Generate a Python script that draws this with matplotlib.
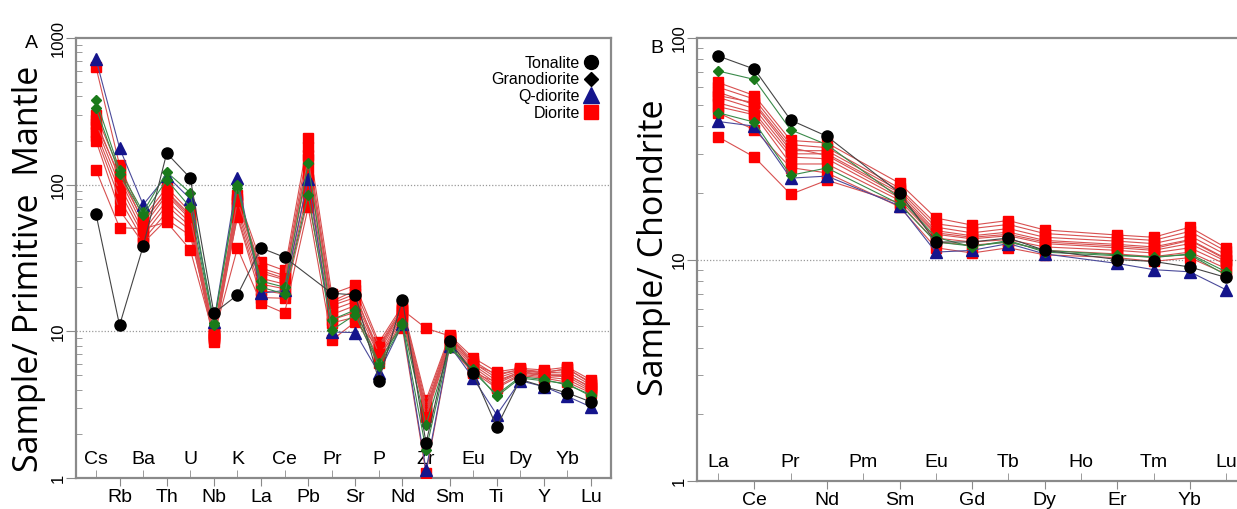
import matplotlib
matplotlib.use('Agg')
import matplotlib.pyplot as plt
from matplotlib.lines import Line2D
from matplotlib.ticker import LogLocator, NullFormatter, FixedLocator
import matplotlib.transforms as mtransforms
import numpy as np

nan = np.nan

# ---- panel A: primitive mantle normalised spider diagram ----
pm_elements = ['Cs', 'Rb', 'Ba', 'Th', 'U', 'Nb', 'K', 'La', 'Ce', 'Pb', 'Pr',
               'Sr', 'P', 'Nd', 'Zr', 'Sm', 'Eu', 'Ti', 'Dy', 'Y', 'Yb', 'Lu']

ton_pm = [
    [63, 11, 38, 164, 111, 13.3, 17.7, 37, 32, nan, 18.2, 17.7, 4.6, 16.4, 1.73, 8.6, 5.2, 2.23, 4.7, 4.2, 3.8, 3.3],
]
gd_pm = [
    [377, 126, 65, 122, 88, 11.4, 95, 22, 20, 140, 12, 14, 6.1, 11.4, 2.3, 7.7, 5.5, 3.6, 4.8, 4.6, 4.4, 3.6],
    [334, 118, 62, 108, 70, 11.0, 100, 20, 18, 85, 10.2, 13, 5.8, 11.0, 1.55, 8.0, 5.3, 3.7, 4.9, 4.7, 4.3, 3.7],
]
qd_pm = [
    [718, 178, 73, 115, 80, 11.6, 111, 18.2, 19, 110, 9.9, 9.8, 5.2, 11.2, 1.13, 8.0, 4.8, 2.7, 4.6, 4.2, 3.6, 3.05],
]
dio_pm = [
    [633, 136, 59, 96, 65, 9.9, 85, 29.7, 26, 208, 18, 20.6, 8.4, 15, 3.4, 9.4, 6.6, 5.3, 5.6, 5.45, 5.7, 4.66],
    [298, 125, 55, 90, 62, 9.5, 80, 27, 24, 180, 16, 19, 8.0, 14.5, 3.2, 9.2, 6.3, 5.0, 5.5, 5.3, 5.5, 4.5],
    [275, 110, 52, 85, 58, 9.2, 75, 25, 22.5, 160, 15, 17, 7.5, 14, 3.0, 9.0, 6.1, 4.8, 5.4, 5.2, 5.3, 4.3],
    [250, 100, 48, 78, 55, 9.0, 70, 23, 21, 130, 14, 16, 7.2, 13.5, 2.9, 8.8, 5.9, 4.6, 5.3, 5.1, 5.1, 4.1],
    [230, 90, 45, 72, 52, 8.8, 66, 21, 19.5, 110, 13, 15, 6.8, 13, 2.8, 8.6, 5.7, 4.4, 5.2, 5.0, 4.9, 4.0],
    [215, 80, 42, 65, 49, 8.5, 62, 19, 18, 95, 12, 13.5, 6.5, 12.5, 2.7, 8.3, 5.5, 4.2, 5.1, 4.9, 4.7, 3.9],
    [200, 67, 40, 58, 45, 9.7, 60, 17, 16.8, 80, 11.4, 12.5, 6.1, 12, 2.6, 8.0, 5.3, 4.1, 5.0, 4.8, 4.5, 3.8],
    [126, 51, 50, 55.6, 36, 9.3, 37, 15.6, 13.3, 70, 8.7, 11.6, 7.8, 14, 10.5, 9.3, 6.0, 5.1, 5.5, 5.2, 5.6, 4.4],
    [260, 115, 57, 88, 60, 9.6, 78, 26, 23, 150, 15.5, 18, 7.0, 10.5, 1.08, 7.8, 5.2, 4.5, 5.3, 5.0, 5.0, 4.2],
]

# ---- panel B: chondrite normalised REE ----
ree_elements = ['La', 'Ce', 'Pr', 'Nd', 'Pm', 'Sm', 'Eu', 'Gd', 'Tb', 'Dy',
                'Ho', 'Er', 'Tm', 'Yb', 'Lu']

ton_ch = [
    [83, 72.4, 42.6, 36, nan, 20, 12, 12, 12.5, 11, nan, 10, 9.8, 9.25, 8.3],
]
gd_ch = [
    [71, 65, 38.5, 33, nan, 19, 12.6, 11.4, 12.2, 10.8, nan, 10.4, 10.3, 10.5, 8.5],
    [46, 41.7, 24, 25.9, nan, 17.8, 12, 11.5, 12, 11, nan, 10.5, 10.2, 10.6, 8.8],
]
qd_ch = [
    [42, 40, 23.3, 23.8, nan, 17.5, 10.8, 11, 11.8, 10.6, nan, 9.6, 9.0, 8.8, 7.3],
]
dio_ch = [
    [63, 55, 34.5, 33.6, nan, 22.1, 15.4, 14.3, 15, 13.6, nan, 12.9, 12.6, 14, 11.3],
    [60, 53, 33, 32, nan, 21, 14.5, 13.8, 14.4, 13.1, nan, 12.5, 12.2, 13.4, 10.9],
    [57, 50, 31, 31, nan, 20.5, 14, 13.2, 13.8, 12.6, nan, 12.1, 11.8, 12.8, 10.5],
    [54, 48, 30, 30, nan, 20, 13.5, 12.8, 13.3, 12.2, nan, 11.7, 11.4, 12.3, 10.1],
    [51, 46, 29, 28.5, nan, 19, 13, 12.4, 12.8, 11.8, nan, 11.3, 11, 11.8, 9.8],
    [49, 45, 27, 27, nan, 18.5, 12.5, 12, 12.3, 11.4, nan, 11, 10.7, 11.3, 9.5],
    [46, 38.5, 26, 24.6, nan, 17.3, 11.3, 10.7, 11.3, 10.5, nan, 10.2, 9.8, 10.2, 8.6],
    [35.8, 29, 19.7, 22.8, nan, 18, 12, 11.6, 12, 11, nan, 10.6, 10.3, 10.8, 9.1],
    [55, 51, 32, 29.5, nan, 19.5, 13.2, 12.6, 13, 12, nan, 11.5, 11.2, 12.2, 10],
]

# group styles: (marker, face colour, line colour, marker size)
styles = {
    'dio': ('s', '#ff0000', '#d85050', 7.5),
    'qd': ('^', '#14148c', '#4a4a9a', 8),
    'gd': ('D', '#1a7a1a', '#3a8a4a', 5),
    'ton': ('o', '#000000', '#444444', 8),
}

plt.rcParams['font.family'] = ['Liberation Sans', 'DejaVu Sans']
GREY = '#8a8a8a'


def draw_group(ax, samples, key):
    m, fc, lc, ms = styles[key]
    for s in samples:
        y = np.array(s, dtype=float)
        x = np.arange(len(y))
        ok = ~np.isnan(y)
        ax.plot(x[ok], y[ok], color=lc, lw=0.8, marker=m, ms=ms,
                mfc=fc, mec=fc, zorder=3)


def setup_axes(ax, labels, ylim, yticks):
    ax.set_yscale('log')
    ax.set_ylim(*ylim)
    for sp in ax.spines.values():
        sp.set_color(GREY)
        sp.set_linewidth(1.6)
    n = len(labels)
    outer = list(range(1, n, 2))
    inner = list(range(0, n, 2))
    ax.set_xticks(outer)
    ax.set_xticklabels([labels[i] for i in outer], fontsize=14)
    ax.xaxis.set_minor_locator(FixedLocator(inner))
    ax.tick_params(axis='x', which='major', direction='out', length=6,
                   color=GREY, pad=2)
    ax.tick_params(axis='x', which='minor', direction='in', length=6,
                   color=GREY)
    trans = mtransforms.blended_transform_factory(ax.transData, ax.transAxes)
    for i in inner:
        ax.text(i, 0.022, labels[i], transform=trans, ha='center',
                va='bottom', fontsize=14)
    ax.set_yticks(yticks)
    ax.set_yticklabels([str(t) for t in yticks])
    ax.yaxis.set_minor_locator(LogLocator(base=10, subs=np.arange(2, 10)))
    ax.yaxis.set_minor_formatter(NullFormatter())
    ax.tick_params(axis='y', which='major', direction='out', length=7,
                   color=GREY, labelrotation=90, labelsize=12, pad=0.5)
    ax.tick_params(axis='y', which='minor', direction='in', length=4,
                   color=GREY)
    for t in ax.get_yticklabels():
        t.set_va('center')
    for t in yticks[1:-1]:
        ax.axhline(t, color='#9a9a9a', lw=0.9, ls=(0, (1, 1.5)), zorder=1)


fig = plt.figure(figsize=(12.37, 5.09), dpi=100)

# panel A
axA = fig.add_axes([0.0614, 0.0609, 0.4326, 0.8644])
setup_axes(axA, pm_elements, (1, 1000), [1, 10, 100, 1000])
axA.set_xlim(-0.85, len(pm_elements) - 1 + 0.85)
draw_group(axA, dio_pm, 'dio')
draw_group(axA, qd_pm, 'qd')
draw_group(axA, gd_pm, 'gd')
draw_group(axA, ton_pm, 'ton')
axA.set_ylabel('Sample/ Primitive  Mantle', fontsize=24.5, family='Open Sans')
axA.yaxis.set_label_coords(-0.056, 0.475)

handles = [
    Line2D([], [], ls='none', marker='o', ms=10, mfc='black', mec='black'),
    Line2D([], [], ls='none', marker='D', ms=7, mfc='black', mec='black'),
    Line2D([], [], ls='none', marker='^', ms=11, mfc='#14148c', mec='#14148c'),
    Line2D([], [], ls='none', marker='s', ms=10, mfc='#ff0000', mec='#ff0000'),
]
axA.legend(handles, ['Tonalite', 'Granodiorite', 'Q-diorite', 'Diorite'],
           loc='upper right', markerfirst=False, frameon=False, fontsize=11.5,
           handlelength=0.8, handletextpad=0.3, labelspacing=0.1,
           borderaxespad=0.3, bbox_to_anchor=(0.995, 0.985))

# panel B
axB = fig.add_axes([0.5635, 0.055, 0.4365, 0.8703])
setup_axes(axB, ree_elements, (1, 100), [1, 10, 100])
axB.set_xlim(-0.58, 14.3)
axB.spines['right'].set_visible(False)
draw_group(axB, dio_ch, 'dio')
draw_group(axB, qd_ch, 'qd')
draw_group(axB, gd_ch, 'gd')
draw_group(axB, ton_ch, 'ton')
axB.set_ylabel('Sample/ Chondrite', fontsize=24.5, family='Open Sans')
axB.yaxis.set_label_coords(-0.049, 0.526)

fig.text(0.02, 0.905, 'A', fontsize=14)
fig.text(0.526, 0.895, 'B', fontsize=14)

fig.savefig('out.png', dpi=100)
